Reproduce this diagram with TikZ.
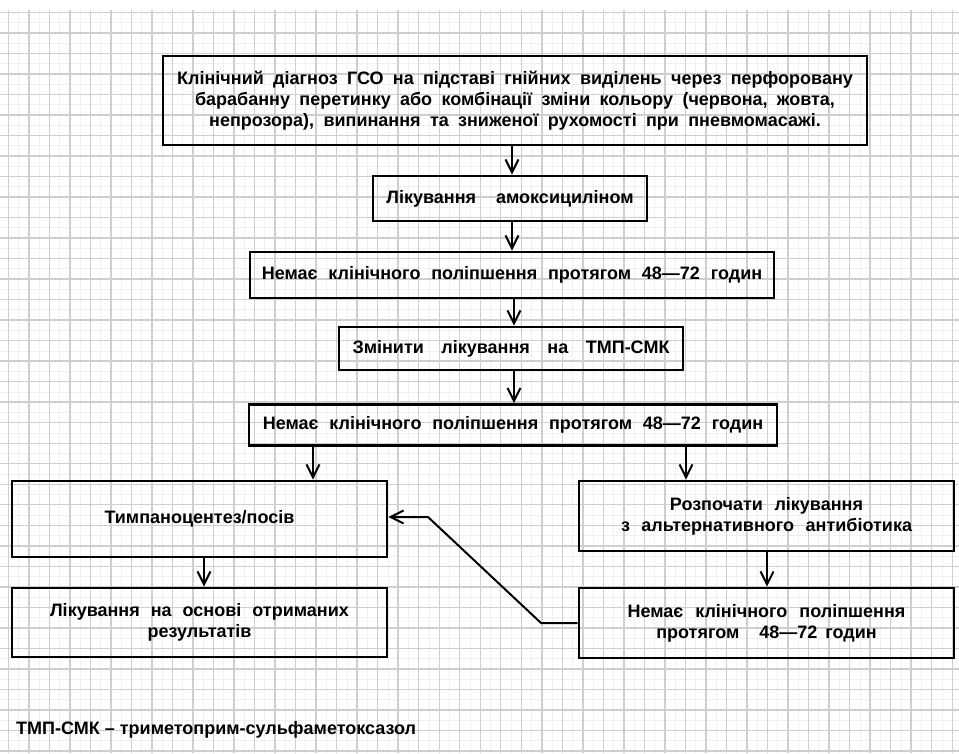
\documentclass[tikz,border=0pt]{standalone}
\usepackage{fontspec}
\setmainfont{Liberation Sans}
\usetikzlibrary{arrows.meta}
\newlength{\wgap}
\begin{document}
\begin{tikzpicture}[x=1pt,y=-1pt,
  gridmajor/.style={draw=black!19, line width=1.4pt},
  gridminor/.style={draw=black!6, line width=0.7pt},
  box/.style={draw=black, line width=2.6pt, inner sep=0pt, align=center,
    font=\fontsize{18}{21.2}\selectfont\bfseries},
  gap/.style={execute at begin node={\setlength{\wgap}{#1pt}\spaceskip=\wgap\relax}},
  conn/.style={draw=black, line width=2pt, -{Straight Barb[length=13pt,width=13pt,line width=2pt]}}]
\useasboundingbox[fill=white] (0,0) rectangle (959,753);
% grid
\foreach \i in {0,...,45} \draw[gridminor] ({18.56+20.52*\i},10) -- ({18.56+20.52*\i},753);
\foreach \j in {0,...,35} \draw[gridminor] (0,{22.56+20.52*\j}) -- (959,{22.56+20.52*\j});
\foreach \i in {0,...,46} \draw[gridmajor] ({8.3+20.52*\i},10) -- ({8.3+20.52*\i},753);
\foreach \j in {0,...,36} \draw[gridmajor] (0,{12.3+20.52*\j}) -- (959,{12.3+20.52*\j});
% boxes
\node[box, gap=9.3, minimum width=704pt, minimum height=89pt] (n1) at (515,100.5)
  {Клінічний діагноз ГСО на підставі гнійних виділень через перфоровану\\
   барабанну перетинку або комбінації зміни кольору (червона, жовта,\\
   непрозора), випинання та зниженої рухомості при пневмомасажі.};
\node[box, gap=20, minimum width=274pt, minimum height=45pt] (n2) at (510,198.5)
  {Лікування амоксициліном};
\node[box, gap=10.8, minimum width=524pt, minimum height=46pt] (n3) at (512,275)
  {Немає клінічного поліпшення протягом 48—72 годин};
\node[box, gap=17.5, minimum width=344pt, minimum height=43pt] (n4) at (511,348.5)
  {Змінити лікування на ТМП-СМК};
\node[box, gap=10.8, minimum width=528pt, minimum height=41pt] (n5) at (513,425)
  {Немає клінічного поліпшення протягом 48—72 годин};
\node[box, minimum width=375pt, minimum height=76pt] (n6) at (199.5,519)
  {Тимпаноцентез/посів};
\node[box, gap=11.5, minimum width=375pt, minimum height=70pt] (n7) at (766.5,516)
  {Розпочати лікування\\ з альтернативного антибіотика};
\node[box, gap=11, minimum width=375pt, minimum height=69pt] (n8) at (199.5,622.5)
  {Лікування на основі отриманих\\ результатів};
\node[box, gap=12, minimum width=375pt, minimum height=70pt] (n9) at (766.5,623)
  {Немає клінічного поліпшення\\ протягом\hspace{8pt} 48—72\hspace{-4pt} годин};
\node[anchor=base west, inner sep=0pt, font=\fontsize{18}{21.5}\selectfont\bfseries] (fn) at (16,734)
  {ТМП-СМК – триметоприм-сульфаметоксазол};
% connector columns
\coordinate (a1) at (512,0);
\coordinate (a2) at (514,0);
\coordinate (a3) at (313,0);
\coordinate (a4) at (686,0);
\coordinate (a5) at (204,0);
\coordinate (a6) at (767,0);
\coordinate (b1) at (541,623);
\coordinate (b2) at (428,517);
% connectors
\draw[conn] (a1 |- n1.south) -- (a1 |- n2.north);
\draw[conn] (a1 |- n2.south) -- (a1 |- n3.north);
\draw[conn] (a2 |- n3.south) -- (a2 |- n4.north);
\draw[conn] (a2 |- n4.south) -- (a2 |- n5.north);
\draw[conn] (a3 |- n5.south) -- (a3 |- n6.north);
\draw[conn] (a4 |- n5.south) -- (a4 |- n7.north);
\draw[conn] (a5 |- n6.south) -- (a5 |- n8.north);
\draw[conn] (a6 |- n7.south) -- (a6 |- n9.north);
\draw[conn] (n9.west) -- (b1) -- (b2) -- (b2 -| n6.east);
\end{tikzpicture}
\end{document}
